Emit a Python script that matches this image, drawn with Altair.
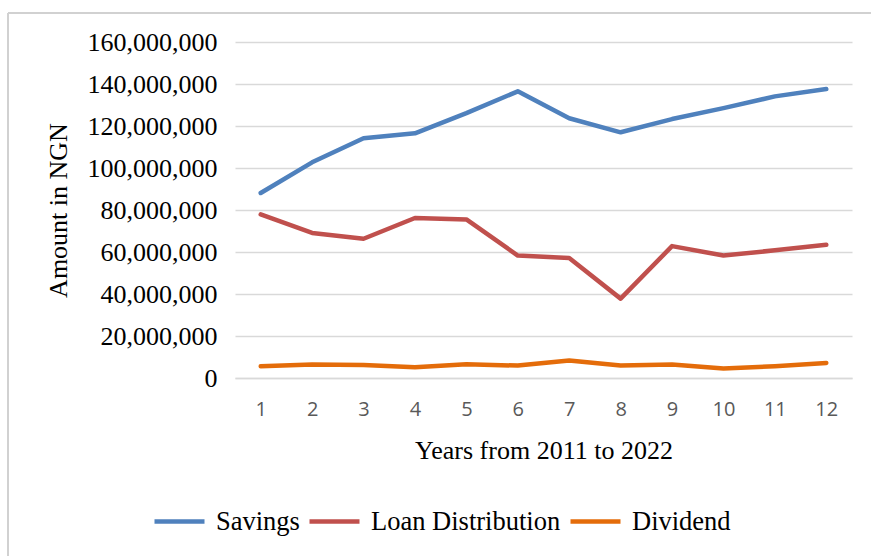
import altair as alt
import pandas as pd

years = list(range(1, 13))
savings = [88.1, 102.7, 114.2, 116.5, 126.1, 136.5, 123.7, 117.0, 123.3, 128.5, 134.1, 137.6]
loan = [77.9, 69.1, 66.3, 76.2, 75.5, 58.3, 57.1, 37.8, 62.8, 58.3, 60.8, 63.4]
dividend = [5.6, 6.4, 6.2, 5.1, 6.5, 5.9, 8.3, 5.9, 6.4, 4.5, 5.6, 7.2]
series_names = ["Savings", "Loan Distribution", "Dividend"]
series_colors = ["#4F81BD", "#C0504D", "#E46C0A"]
y_ticks = [0, 20e6, 40e6, 60e6, 80e6, 100e6, 120e6, 140e6, 160e6]

rows = []
for name, vals in zip(series_names, [savings, loan, dividend]):
    for yr, v in zip(years, vals):
        rows.append({"year": yr, "amount": v * 1e6, "series": name})
df = pd.DataFrame(rows)

SERIF = "Liberation Serif"

lines = alt.Chart(df).mark_line(strokeWidth=4.5, strokeCap="round", strokeJoin="round").encode(
    x=alt.X("year:O", scale=alt.Scale(padding=0.5),
            axis=alt.Axis(title="Years from 2011 to 2022", labelAngle=0, grid=False, ticks=False,
                          domain=True, domainColor="#D9D9D9", domainWidth=1.5,
                          labelFont="Open Sans", labelFontSize=20, labelColor="#595959",
                          labelPadding=21, titleFont=SERIF, titleFontSize=26,
                          titleFontWeight="normal", titleColor="#000000", titlePadding=18)),
    y=alt.Y("amount:Q", scale=alt.Scale(domain=[0, 160e6], nice=False),
            axis=alt.Axis(title="Amount in NGN", values=y_ticks, format=",d", ticks=False,
                          domain=False, grid=True, gridColor="#D9D9D9", gridWidth=1.5,
                          labelFont=SERIF, labelFontSize=26, labelColor="#000000",
                          labelPadding=18, titleFont=SERIF, titleFontSize=26,
                          titleFontWeight="normal", titleColor="#000000", titlePadding=16)),
    color=alt.Color("series:N", scale=alt.Scale(domain=series_names, range=series_colors),
                    legend=alt.Legend(title=None, orient="none", direction="horizontal",
                                      legendX=-83, legendY=452, symbolType="stroke",
                                      symbolSize=2500, symbolStrokeWidth=4.5,
                                      labelFont=SERIF, labelFontSize=26.5, labelColor="#000000",
                                      labelLimit=400, labelOffset=9, columnPadding=0,
                                      symbolOffset=0)),
    order=alt.Order("year:O"),
)

frame_left = alt.Chart(df).mark_rule(color="#D0D0D0", strokeWidth=1.5).encode(
    x=alt.value(-227), y=alt.value(-29), y2=alt.value(520))
frame_top = alt.Chart(df).mark_rule(color="#D0D0D0", strokeWidth=1.5).encode(
    x=alt.value(-227), x2=alt.value(640), y=alt.value(-29))

chart = alt.layer(frame_left, frame_top, lines).properties(
    width=617, height=336,
    autosize=alt.AutoSizeParams(type="none"),
    padding={"left": 235, "top": 42, "right": 19, "bottom": 178},
    background="white",
).configure_view(stroke="transparent", strokeWidth=0)

chart.save("out.html", embed_options={"renderer": "svg", "actions": False})
